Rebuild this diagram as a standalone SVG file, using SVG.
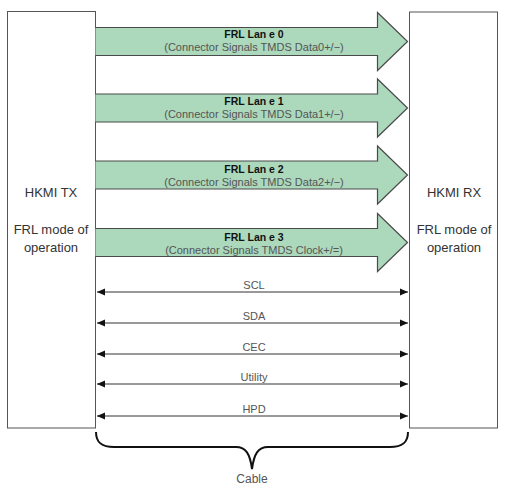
<svg xmlns="http://www.w3.org/2000/svg" width="511" height="492" viewBox="0 0 511 492">
<style>
.box{fill:#fff;stroke:#555;stroke-width:1}
.lane{fill:#acd8bc;stroke:#4a4a4a;stroke-width:1.2;stroke-linejoin:miter}
.nt{font-family:"Liberation Sans",Arial,sans-serif;font-size:13px;fill:#333;text-anchor:middle}
.lt{font-family:"Liberation Sans",Arial,sans-serif;font-size:10.5px;font-weight:bold;fill:#111;text-anchor:middle}
.ls{font-family:"Liberation Sans",Arial,sans-serif;font-size:11px;fill:#555;text-anchor:middle}
.sl{font-family:"Liberation Sans",Arial,sans-serif;font-size:11px;fill:#555;text-anchor:middle}
.dl{stroke:#333;stroke-width:1;fill:none;marker-start:url(#ah);marker-end:url(#ah)}
.br{stroke:#111;stroke-width:2;fill:none}
</style>
<defs>
<marker id="ah" viewBox="0 0 8 8" refX="8" refY="4" markerWidth="8" markerHeight="8" markerUnits="userSpaceOnUse" orient="auto-start-reverse">
<path d="M0,0.5 L8,4 L0,7.5 Z" fill="#111"/>
</marker>
</defs>
<rect width="511" height="492" fill="#fff"/>
<g id="tx">
<rect class="box" x="7.5" y="11.5" width="88" height="416.5"/>
<text class="nt" x="51" y="197">HKMI TX</text>
<text class="nt" x="51" y="234">FRL mode of</text>
<text class="nt" x="51" y="252">operation</text>
</g>
<g id="rx">
<rect class="box" x="409.5" y="12" width="88" height="416"/>
<text class="nt" x="454" y="197">HKMI RX</text>
<text class="nt" x="454" y="234">FRL mode of</text>
<text class="nt" x="454" y="252">operation</text>
</g>
<g id="connectors">
<g id="lane0">
<path class="lane" d="M95.5,27.5 H377.5 V12.5 L407.5,41.5 L377.5,70.5 V55.5 H95.5"/>
<text class="lt" x="254" y="38">FRL Lan e 0</text>
<text class="ls" x="254" y="50.5">(Connector Signals TMDS Data0+/−)</text>
</g>
<g id="lane1">
<path class="lane" d="M95.5,94 H377.5 V79 L407.5,108 L377.5,137 V122 H95.5"/>
<text class="lt" x="254" y="104.5">FRL Lan e 1</text>
<text class="ls" x="254" y="118">(Connector Signals TMDS Data1+/−)</text>
</g>
<g id="lane2">
<path class="lane" d="M95.5,161 H377.5 V146 L407.5,175 L377.5,204 V189 H95.5"/>
<text class="lt" x="254" y="172.5">FRL Lan e 2</text>
<text class="ls" x="254" y="185.5">(Connector Signals TMDS Data2+/−)</text>
</g>
<g id="lane3">
<path class="lane" d="M95.5,228.5 H377.5 V213.5 L407.5,242.5 L377.5,271.5 V256.5 H95.5"/>
<text class="lt" x="254" y="240.5">FRL Lan e 3</text>
<text class="ls" x="254" y="253.5">(Connector Signals TMDS Clock+/=)</text>
</g>
<g id="scl"><line class="dl" x1="97" y1="292" x2="408" y2="292"/><text class="sl" x="254" y="289">SCL</text></g>
<g id="sda"><line class="dl" x1="97" y1="323" x2="408" y2="323"/><text class="sl" x="254" y="320">SDA</text></g>
<g id="cec"><line class="dl" x1="97" y1="354" x2="408" y2="354"/><text class="sl" x="254" y="351">CEC</text></g>
<g id="utility"><line class="dl" x1="97" y1="384" x2="408" y2="384"/><text class="sl" x="254" y="381">Utility</text></g>
<g id="hpd"><line class="dl" x1="97" y1="416" x2="408" y2="416"/><text class="sl" x="254" y="413">HPD</text></g>
</g>
<g id="cable">
<path class="br" d="M96,432 C96,442 101,447 114,447 H236 C246,447 250,454 252,469 C254,454 258,447 268,447 H390 C403,447 408,442 408,432"/>
<text class="ls" x="252" y="483" style="font-size:12px">Cable</text>
</g>
</svg>
